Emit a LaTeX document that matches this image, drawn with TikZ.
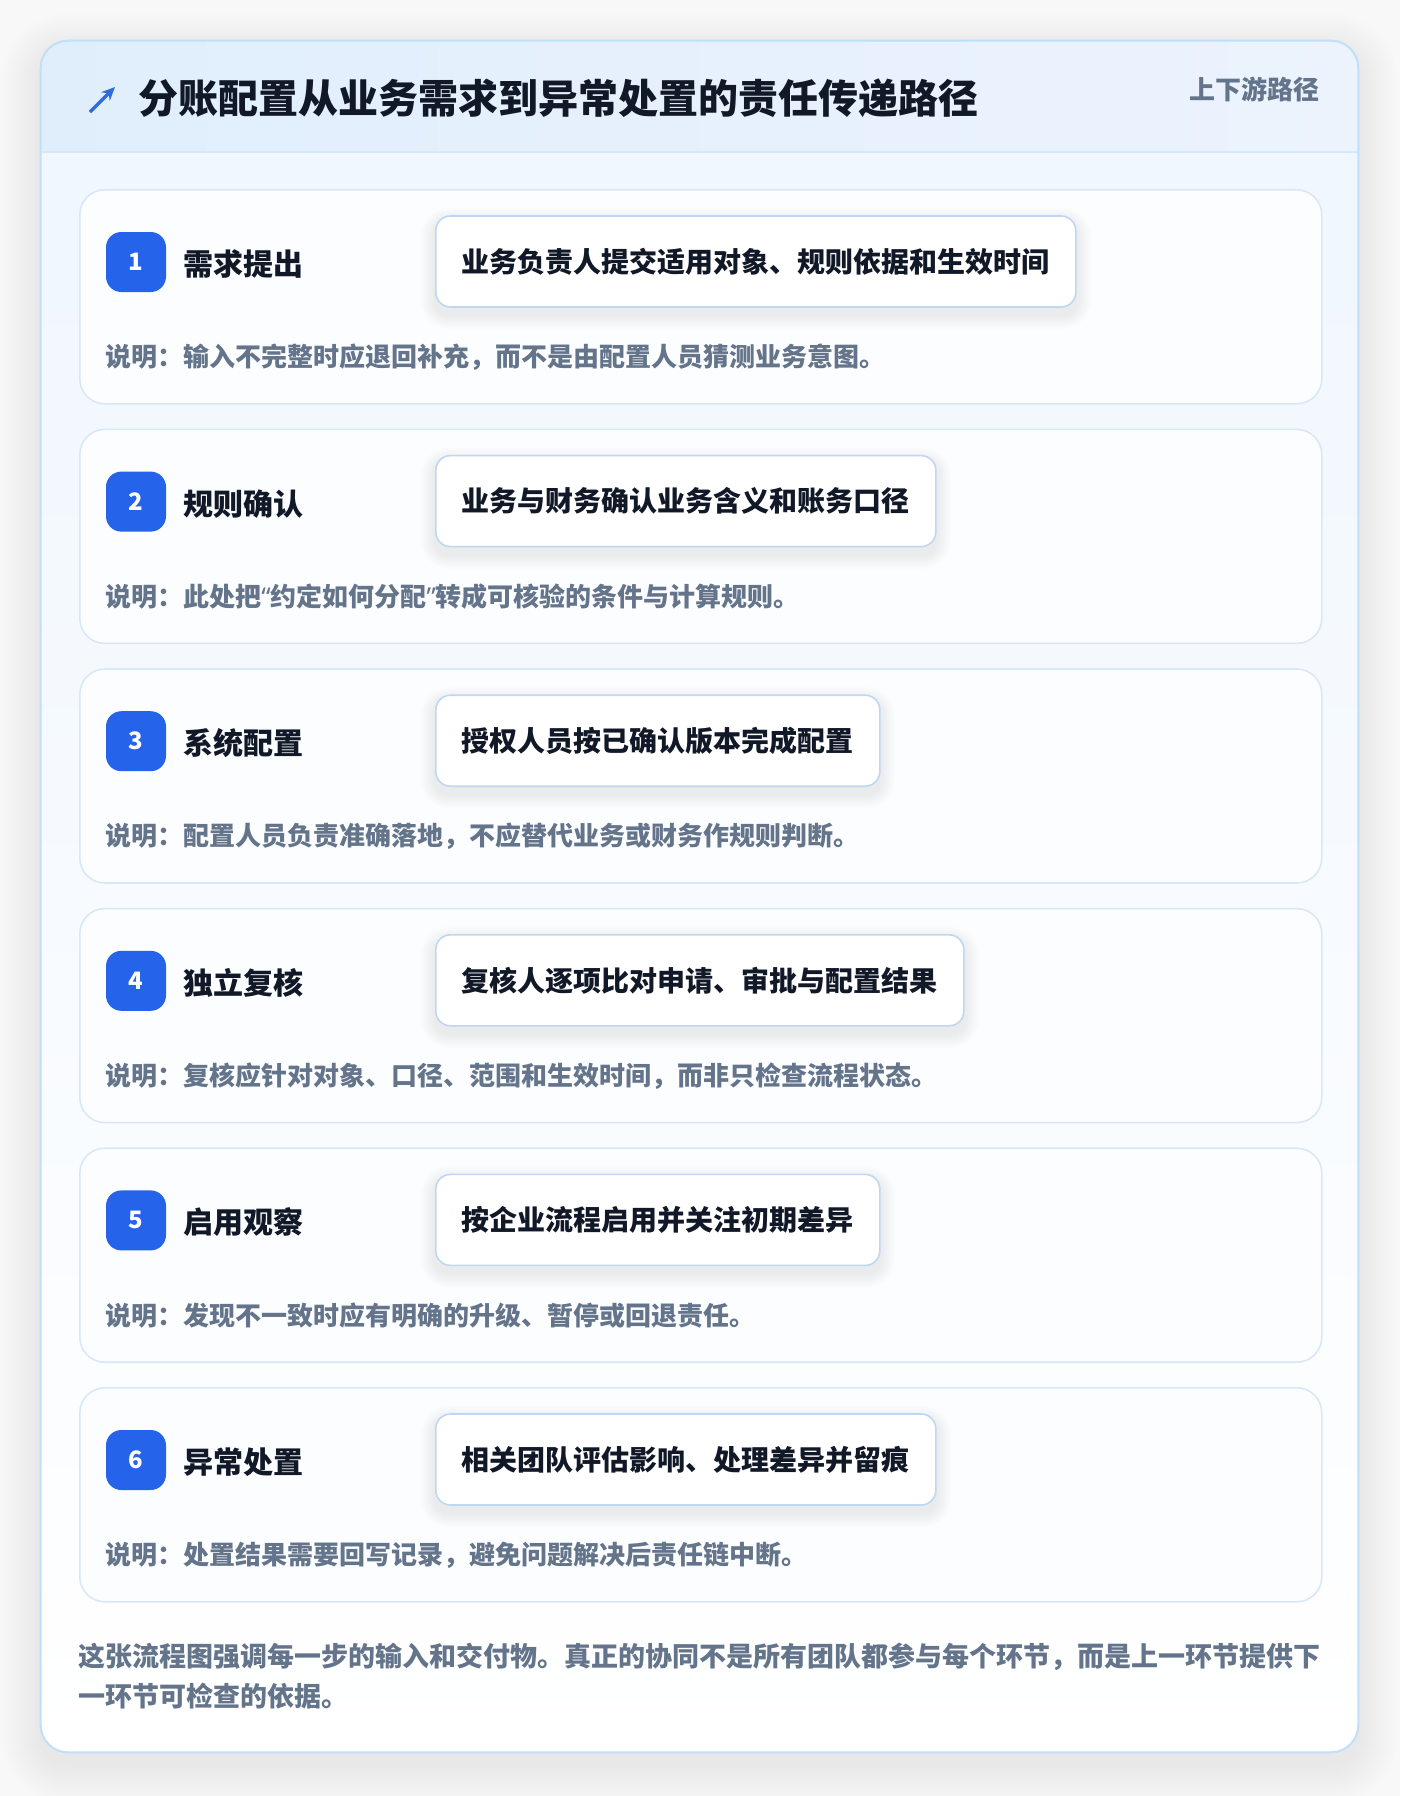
\documentclass[tikz,border=0pt]{standalone}
\usepackage{fontspec}
\setmainfont{Noto Sans CJK SC}
\newfontfamily\latinq{Noto Sans}
\usetikzlibrary{arrows.meta}
\pgfdeclarelayer{back}
\pgfdeclarelayer{shadowlayer}
\pgfsetlayers{back,shadowlayer,main}
\definecolor{pagebg}{HTML}{F8F8F9}
\definecolor{cardborder}{HTML}{BFE0F8}
\definecolor{headA}{HTML}{E0EEFC}
\definecolor{headB}{HTML}{ECF3FD}
\definecolor{headline}{HTML}{D6E7F8}
\definecolor{bodytop}{HTML}{EFF6FE}
\definecolor{stepfill}{HTML}{FCFDFF}
\definecolor{stepborder}{HTML}{D9E8F8}
\definecolor{boxborder}{HTML}{BFD7F3}
\definecolor{badgeblue}{HTML}{2563EB}
\definecolor{arrowblue}{HTML}{2F6BDE}
\definecolor{darktext}{HTML}{111827}
\definecolor{graytext}{HTML}{64748B}
\begin{document}
\begin{tikzpicture}[x=0.75pt,y=-0.75pt,
  outercard/.style={inner sep=0pt, minimum width=987.75pt, minimum height=1283.25pt},
  stepcard/.style={draw=stepborder, line width=1.2pt, fill=stepfill, rounded corners=18.75pt, minimum width=931.5pt, minimum height=160.5pt, inner sep=0pt, anchor=north west},
  badge/.style={fill=badgeblue, rounded corners=11.5pt, minimum size=45pt, inner sep=0pt, text=white, font=\fontsize{18pt}{20pt}\selectfont\bfseries},
  steptitle/.style={anchor=west, inner sep=0pt, text=darktext, font=\fontsize{22.5pt}{26pt}\selectfont\bfseries},
  outbox/.style={anchor=west, draw=boxborder, line width=1.2pt, fill=white, rounded corners=11pt, inner xsep=19.5pt, inner ysep=0pt, minimum height=68.25pt, text=darktext, font=\fontsize{21pt}{24pt}\selectfont\bfseries},
  notetext/.style={anchor=west, inner sep=0pt, text=graytext, font=\fontsize{19.5pt}{22pt}\selectfont\bfseries},
]
\useasboundingbox (0,0) rectangle (1400,1796);
\begin{pgfonlayer}{back}
\fill[pagebg] (0,0) rectangle (1400,1796);
% soft shadow of the outer card
\foreach \i in {1,...,16} {
  \pgfmathsetmacro\rc{(27+2.5*\i)*0.75}
  \fill[black, opacity=0.005, rounded corners=\rc pt]
    (41-2.5*\i, 53-2.5*\i) rectangle (1358+2.5*\i, 1764+2.5*\i);
}
% outer card
\node[outercard] (card) at (699.5,896.5) {};
\shade[top color=bodytop, bottom color=white, rounded corners=20.25pt]
  (card.north west) rectangle (card.south east);
\begin{scope}
  \clip[rounded corners=20.25pt] (card.north west) rectangle (card.south east);
  \shade[left color=headA, right color=headB] (41,41) rectangle (1358,152);
\end{scope}
\coordinate (hl) at (41,152);
\coordinate (hr) at (1358,152);
\draw[headline, line width=1.2pt] (hl) -- (hr);
\draw[cardborder, line width=1.5pt, rounded corners=20.25pt]
  (card.north west) rectangle (card.south east);
\end{pgfonlayer}

% header
\coordinate (arrS) at (90,112);
\coordinate (arrE) at (115,87);
\draw[arrowblue, line width=2.4pt, -{Stealth[length=10pt,width=9pt]}] (arrS) -- (arrE);
\node[anchor=west, inner sep=0pt, text=darktext, font=\fontsize{30pt}{34pt}\selectfont\bfseries] (title) at (138,98) {分账配置从业务需求到异常处置的责任传递路径};
\node[anchor=east, inner sep=0pt, text=graytext, font=\fontsize{19.5pt}{22pt}\selectfont\bfseries] (tag) at (1320,89) {上下游路径};

% steps
\foreach \k/\ttl/\out/\nt in {
  1/需求提出/业务负责人提交适用对象、规则依据和生效时间/说明：输入不完整时应退回补充，而不是由配置人员猜测业务意图。,
  2/规则确认/业务与财务确认业务含义和账务口径/说明：此处把{\latinq “}约定如何分配{\latinq ”}转成可核验的条件与计算规则。,
  3/系统配置/授权人员按已确认版本完成配置/说明：配置人员负责准确落地，不应替代业务或财务作规则判断。,
  4/独立复核/复核人逐项比对申请、审批与配置结果/说明：复核应针对对象、口径、范围和生效时间，而非只检查流程状态。,
  5/启用观察/按企业流程启用并关注初期差异/说明：发现不一致时应有明确的升级、暂停或回退责任。,
  6/异常处置/相关团队评估影响、处理差异并留痕/说明：处置结果需要回写记录，避免问题解决后责任链中断。} {
  \pgfmathsetmacro\T{189+239.6*(\k-1)}
  \begin{pgfonlayer}{back}
    \node[stepcard] (s\k) at (79,\T) {};
  \end{pgfonlayer}
  \node[badge] (b\k) at (136,\T+73) {\k};
  \node[steptitle] (t\k) at (183,\T+75) {\ttl};
  \node[outbox] (o\k) at (435,\T+72.5) {\out};
  \node[notetext] (n\k) at (105,\T+168) {\nt};
  \begin{pgfonlayer}{shadowlayer}
    \foreach \j in {1,...,9} {
      \pgfmathsetmacro\sp{1.6*\j}
      \pgfmathsetmacro\rb{(14+\sp)*0.75}
      \fill[black, opacity=0.006, rounded corners=\rb pt]
        ([xshift=-\sp*0.75pt, yshift=(\sp-7)*0.75pt]o\k.north west) rectangle
        ([xshift=\sp*0.75pt, yshift=-(\sp+7)*0.75pt]o\k.south east);
    }
  \end{pgfonlayer}
}

% footer
\node[anchor=west, inner sep=0pt, align=left, text=graytext, font=\fontsize{20.25pt}{30pt}\selectfont\bfseries] (foot) at (78,1676)
  {这张流程图强调每一步的输入和交付物。真正的协同不是所有团队都参与每个环节，而是上一环节提供下\\一环节可检查的依据。};
\end{tikzpicture}
\end{document}
